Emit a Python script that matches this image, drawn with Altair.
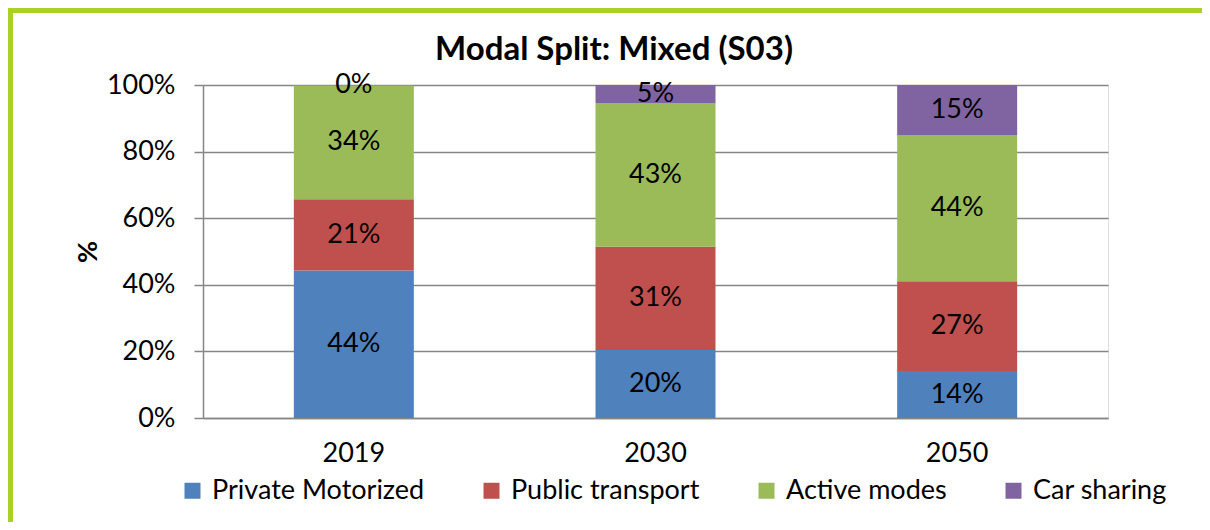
import altair as alt
import pandas as pd

years = ["2019", "2030", "2050"]
modes = ["Private Motorized", "Public transport", "Active modes", "Car sharing"]
private_motorized = [44.3, 20.4, 14.1]
public_transport = [21.4, 31.0, 27.0]
active_modes = [34.2, 43.2, 43.9]
car_sharing = [0.1, 5.4, 15.0]
colors = ["#4F81BD", "#C0504D", "#9BBB59", "#8064A2"]
y_ticks = [0, 20, 40, 60, 80, 100]
title_text = "Modal Split: Mixed (S03)"

series = [private_motorized, public_transport, active_modes, car_sharing]
rows = []
for i, yr in enumerate(years):
    for j, m in enumerate(modes):
        rows.append({"year": yr, "mode": m, "order": j, "value": series[j][i]})
df = pd.DataFrame(rows)

FONT = "Lato"
FS = 27
W, H = 905, 333
PAD = {"left": 195, "top": 77, "right": 94, "bottom": 104}
GRAY = "#868686"

base = alt.Chart(df).transform_stack(
    stack="value", groupby=["year"], as_=["y0", "y1"], sort=[alt.SortField("order")]
).transform_calculate(
    mid="(datum.y0 + datum.y1) / 2",
    lbl="format(datum.value, '.0f') + '%'",
)

x_enc = alt.X(
    "year:N",
    sort=years,
    scale=alt.Scale(paddingInner=0, paddingOuter=0),
    axis=alt.Axis(
        title=None, labelAngle=0, ticks=False, labelFont=FONT, labelFontSize=FS,
        labelColor="black", labelPadding=22, domainColor=GRAY, domainWidth=1.5,
        grid=False,
    ),
)

bars = base.mark_bar(size=120).encode(
    x=x_enc,
    y=alt.Y(
        "y1:Q",
        scale=alt.Scale(domain=[0, 100], nice=False),
        axis=alt.Axis(
            title="%", values=y_ticks, labelExpr="datum.value + '%'",
            labelFont=FONT, labelFontSize=FS, labelColor="black", labelPadding=19,
            tickSize=9, tickColor=GRAY, tickWidth=1.5, domainColor=GRAY, domainWidth=1.5,
            grid=True, gridColor=GRAY, gridWidth=1.5,
            titleFont=FONT, titleFontSize=FS, titleFontWeight="bold", titleColor="black",
            titleAngle=270, titleX=-115, titleY=H / 2, titleAlign="center",
            titleBaseline="middle",
        ),
    ),
    y2="y0:Q",
    color=alt.Color(
        "mode:N",
        sort=modes,
        scale=alt.Scale(domain=modes, range=colors),
        legend=alt.Legend(
            title=None, orient="none", legendX=-24, legendY=392, direction="horizontal",
            symbolType="square", symbolSize=256, symbolStrokeWidth=0,
            labelFont=FONT, labelFontSize=FS, labelColor="black", labelOffset=6,
            columnPadding=53, labelLimit=400,
        ),
    ),
    order=alt.Order("order:Q"),
)

labels = base.mark_text(font=FONT, fontSize=FS, color="black", baseline="middle").encode(
    x=alt.X("year:N", sort=years),
    y=alt.Y("mid:Q"),
    text="lbl:N",
)

frame_df = pd.DataFrame({"k": [0]})
top_border = alt.Chart(frame_df).mark_rule(color="#A9D12A", strokeWidth=5).encode(
    x=alt.value(-PAD["left"]), x2=alt.value(W + PAD["right"]), y=alt.value(-PAD["top"] + 2.5)
)
left_border = alt.Chart(frame_df).mark_rule(color="#A9D12A", strokeWidth=5).encode(
    x=alt.value(-PAD["left"] + 2.5), y=alt.value(-PAD["top"]), y2=alt.value(H + PAD["bottom"])
)
title_mark = alt.Chart(pd.DataFrame({"t": [title_text]})).mark_text(
    font=FONT, fontSize=33, fontWeight="bold", color="black", align="center",
    baseline="alphabetic",
).encode(x=alt.value(411), y=alt.value(-25), text="t:N")

chart = alt.layer(bars, labels, top_border, left_border, title_mark).properties(
    width=W,
    height=H,
    padding=PAD,
    autosize=alt.AutoSizeParams(type="none"),
).configure_view(stroke=None).configure(background="white")

chart.save("out.html", embed_options={"renderer": "svg", "actions": False})
